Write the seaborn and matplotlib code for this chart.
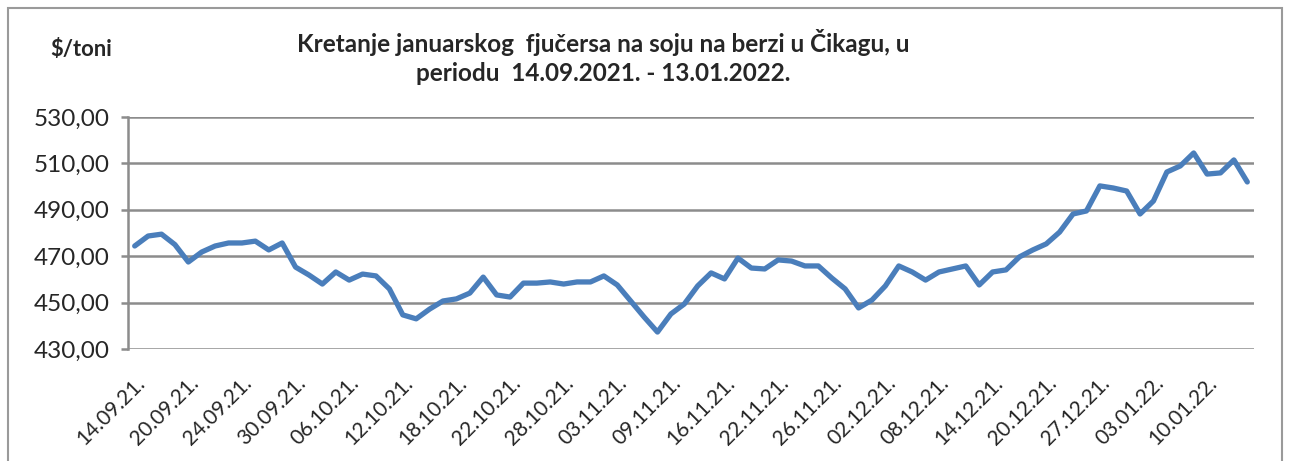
import numpy as np
import pandas as pd
import seaborn as sns
from matplotlib import pyplot as plt
from matplotlib.patches import Rectangle
from matplotlib.ticker import FuncFormatter

# January soybean futures, CBOT, $/t
prices = [474.4, 478.7, 479.5, 475.0, 467.5, 471.8, 474.4, 475.7, 475.7, 476.5,
          472.7, 475.7, 465.3, 461.9, 458.0, 463.2, 459.7, 462.3, 461.5, 455.9,
          444.7, 443.0, 447.2, 450.7, 451.6, 454.1, 461.0, 453.3, 452.4, 458.4,
          458.4, 458.9, 458.0, 458.9, 458.9, 461.5, 457.6, 450.7, 443.8, 437.3,
          445.1, 449.4, 457.2, 462.8, 460.2, 469.2, 464.9, 464.5, 468.4, 467.9,
          465.8, 465.8, 460.6, 455.9, 447.7, 451.1, 457.2, 465.8, 463.2, 459.7,
          463.2, 464.5, 465.8, 457.6, 463.2, 464.1, 469.7, 472.7, 475.3, 480.4,
          488.2, 489.5, 500.3, 499.4, 498.1, 488.2, 493.8, 506.3, 508.9, 514.5,
          505.4, 505.9, 511.5, 502.0]

# every 4th trading day is labelled
tick_labels = ["14.09.21.", "20.09.21.", "24.09.21.", "30.09.21.", "06.10.21.",
               "12.10.21.", "18.10.21.", "22.10.21.", "28.10.21.", "03.11.21.",
               "09.11.21.", "16.11.21.", "22.11.21.", "26.11.21.", "02.12.21.",
               "08.12.21.", "14.12.21.", "20.12.21.", "27.12.21.", "03.01.22.",
               "10.01.22."]
label_step = 4

yticks = [430, 450, 470, 490, 510, 530]

title = ("Kretanje januarskog  fjučersa na soju na berzi u Čikagu, u\n"
         "periodu  14.09.2021. - 13.01.2022.")
unit = "$/toni"

df = pd.DataFrame({"day": np.arange(len(prices)), "price": prices})

sns.set_style("white")
plt.rcParams["font.family"] = ["Lato", "DejaVu Sans"]

W, H = 1294, 461
fig = plt.figure(figsize=(W / 100, H / 100), dpi=100)
ax = fig.add_axes([128 / W, 1 - 349 / H, (1254 - 128) / W, (349 - 117) / H])

grid_col = "#8c8c8c"
sns.lineplot(data=df, x="day", y="price", ax=ax, color="#4a7ebb",
             linewidth=3.8, solid_joinstyle="round", solid_capstyle="round")

ax.set_xlim(-0.5, len(prices) - 0.5)
ax.set_ylim(yticks[0], yticks[-1])
ax.set_yticks(yticks)
ax.yaxis.set_major_formatter(FuncFormatter(lambda v, p: f"{v:.2f}".replace(".", ",")))
ax.grid(axis="y", color=grid_col, linewidth=1.8)
ax.set_axisbelow(True)

ax.set_xticks(np.arange(0, len(prices), label_step)[:len(tick_labels)])
ax.set_xticklabels(tick_labels, rotation=45, ha="right", rotation_mode="anchor",
                   fontsize=15)
ax.tick_params(axis="x", length=0, pad=17)
ax.tick_params(axis="y", direction="out", length=5, width=1.8, color=grid_col,
               labelsize=17.5, pad=8, left=True)

for s in ["top", "right", "bottom"]:
    ax.spines[s].set_visible(False)
ax.spines["left"].set_color(grid_col)
ax.spines["left"].set_linewidth(1.8)
ax.set_xlabel("")
ax.set_ylabel("")

fig.text(603 / W, 1 - 57 / H, title, ha="center", va="center", fontsize=17.5,
         fontweight="bold", linespacing=1.3)
fig.text(50 / W, 1 - 50 / H, unit, ha="left", va="center", fontsize=15.8,
         fontweight="bold")

fig.patches.append(Rectangle((8 / W, -0.1), (1282 - 8) / W, 1.1 - 8 / H,
                             transform=fig.transFigure, fill=False,
                             edgecolor="#9a9a9a", linewidth=1.5))

fig.savefig("out.png", dpi=100)
